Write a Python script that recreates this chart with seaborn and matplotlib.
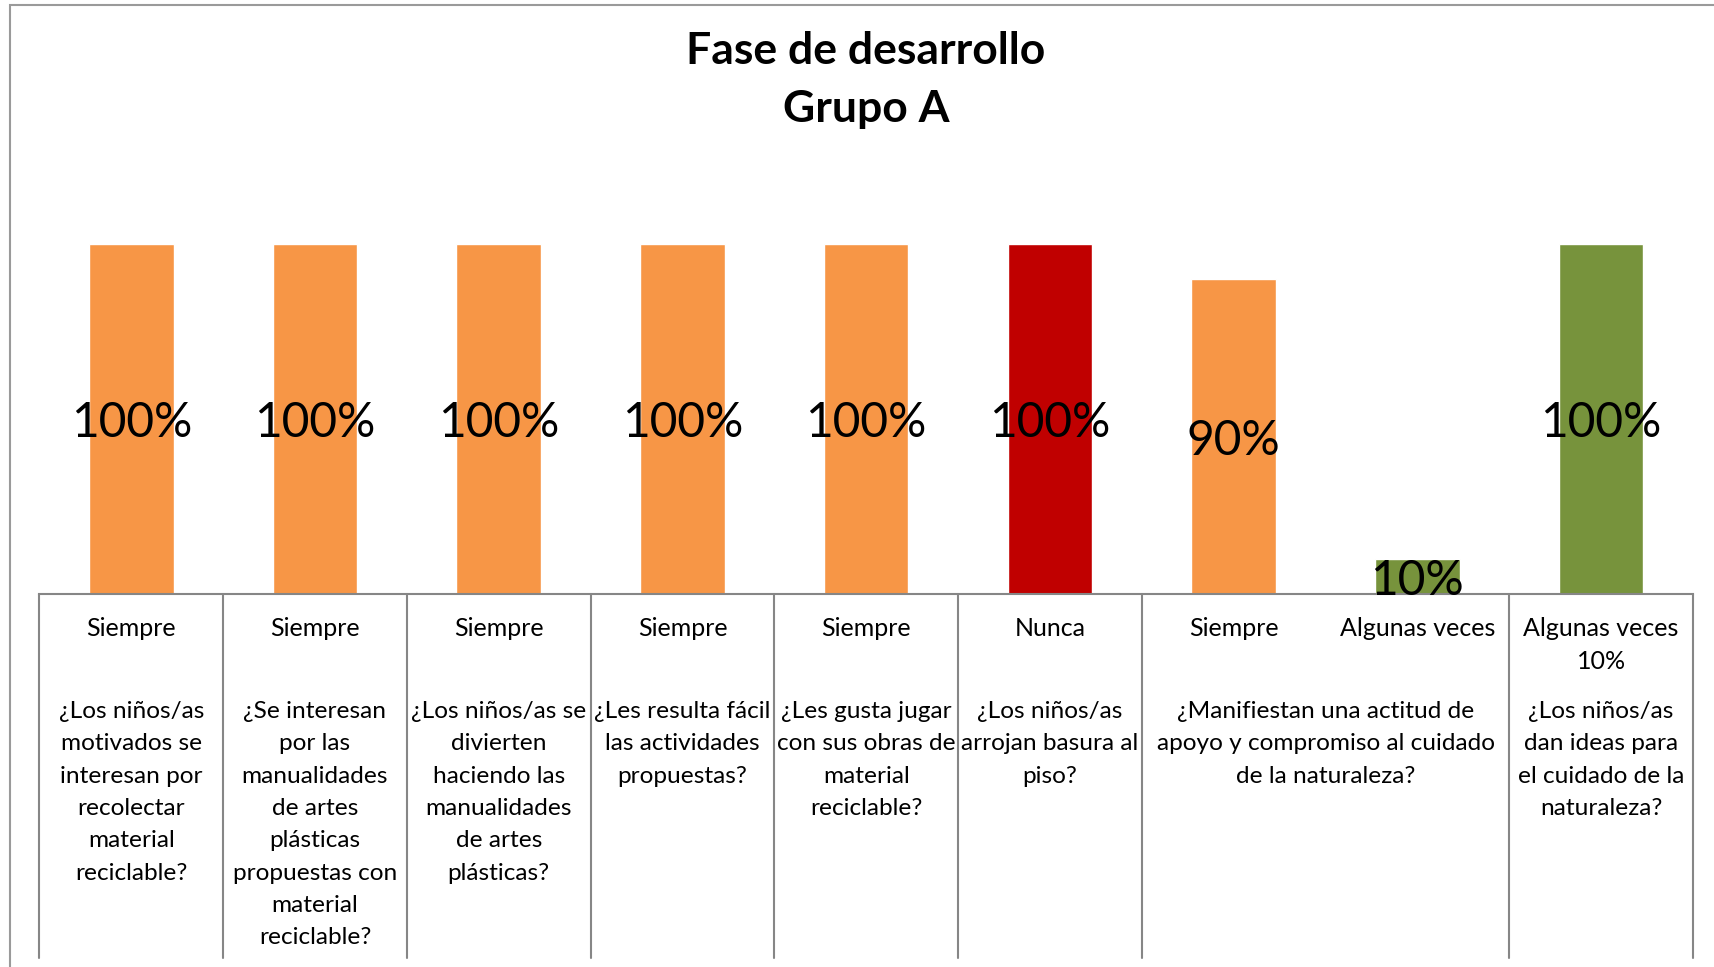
import matplotlib
matplotlib.use("Agg")
import matplotlib.pyplot as plt
import matplotlib.patches as patches
import matplotlib.transforms as mtransforms
import numpy as np
import pandas as pd
import seaborn as sns

# datos del grafico
respuestas = ["Siempre", "Siempre", "Siempre", "Siempre", "Siempre",
              "Nunca", "Siempre", "Algunas veces", "Algunas veces"]
etiquetas = ["Siempre", "Siempre", "Siempre", "Siempre", "Siempre",
             "Nunca", "Siempre", "Algunas veces", "Algunas veces\n10%"]
valores = [1.00, 1.00, 1.00, 1.00, 1.00, 1.00, 0.90, 0.10, 1.00]
preguntas = [
    "¿Los niños/as\nmotivados se\ninteresan por\nrecolectar\nmaterial\nreciclable?",
    "¿Se interesan\npor las\nmanualidades\nde artes\nplásticas\npropuestas con\nmaterial\nreciclable?",
    "¿Los niños/as se\ndivierten\nhaciendo las\nmanualidades\nde artes\nplásticas?",
    "¿Les resulta fácil\nlas actividades\npropuestas?",
    "¿Les gusta jugar\ncon sus obras de\nmaterial\nreciclable?",
    "¿Los niños/as\narrojan basura al\npiso?",
    "¿Manifiestan una actitud de\napoyo y compromiso al cuidado\nde la naturaleza?",
    "¿Los niños/as\ndan ideas para\nel cuidado de la\nnaturaleza?",
]
# cuantas barras cubre cada pregunta
barras_por_pregunta = [1, 1, 1, 1, 1, 1, 2, 1]
titulo = "Fase de desarrollo\nGrupo A"

colores = {"Siempre": "#F79646", "Nunca": "#C00000", "Algunas veces": "#77933C"}

sns.set_theme(style="white")
plt.rcParams['font.family'] = ['Lato', 'DejaVu Sans']
plt.rcParams['text.color'] = 'black'
plt.rcParams['xtick.color'] = 'black'

df = pd.DataFrame({"pos": range(len(valores)), "valor": valores, "resp": respuestas})

fig = plt.figure(figsize=(17.15, 9.67), dpi=100)
W, H = 1715, 967
ax = fig.add_axes([39.4 / W, (H - 594) / H, 1653.6 / W, 350 / H])

sns.barplot(data=df, x="pos", y="valor", hue="resp", palette=colores,
            dodge=False, width=0.46, legend=False, saturation=1, ax=ax)

for c in ax.containers:
    txts = ax.bar_label(c, fmt=lambda v: f"{v:.0%}", label_type="center",
                        fontsize=34.5, color="black")
    for t in txts:
        t.xyann = (0, -3)

ax.set_xlim(-0.5, len(valores) - 0.5)
ax.set_ylim(0, 1)
ax.set_yticks([])
ax.set_ylabel("")
ax.set_xlabel("")
for s in ["left", "right", "top"]:
    ax.spines[s].set_visible(False)
ax.spines["bottom"].set_color("#868686")
ax.spines["bottom"].set_linewidth(1.5)

ax.set_xticks(range(len(valores)))
ax.set_xticklabels(etiquetas, fontsize=18, linespacing=1.55)
ax.tick_params(axis="x", length=0, pad=16.5)

# categorias externas y separadores
trans = mtransforms.blended_transform_factory(ax.transData, ax.transAxes)
inicio = np.concatenate([[0], np.cumsum(barras_por_pregunta)[:-1]])
fin = np.cumsum(barras_por_pregunta)
for p, a, b in zip(preguntas, inicio, fin):
    ax.text((a + b - 1) / 2, -0.305, p, transform=trans, ha="center", va="top",
            fontsize=17.6, linespacing=1.67)
for xb in np.concatenate([[-0.5], fin - 0.5]):
    ax.plot([xb, xb], [0, -1.04], transform=trans, color="#868686",
            lw=1.5, clip_on=False)

fig.text(866 / W, 1 - 31 / H, titulo, ha="center", va="top",
         fontsize=32, fontweight="bold", linespacing=1.56)

# borde del area del grafico
fig.add_artist(patches.Rectangle((10 / W, -0.1), 1.2, 1.1 - 5 / H,
                                 transform=fig.transFigure, fill=False,
                                 edgecolor="#9A9A9A", lw=1.5))

fig.savefig("out.png", dpi=100, facecolor="white")
